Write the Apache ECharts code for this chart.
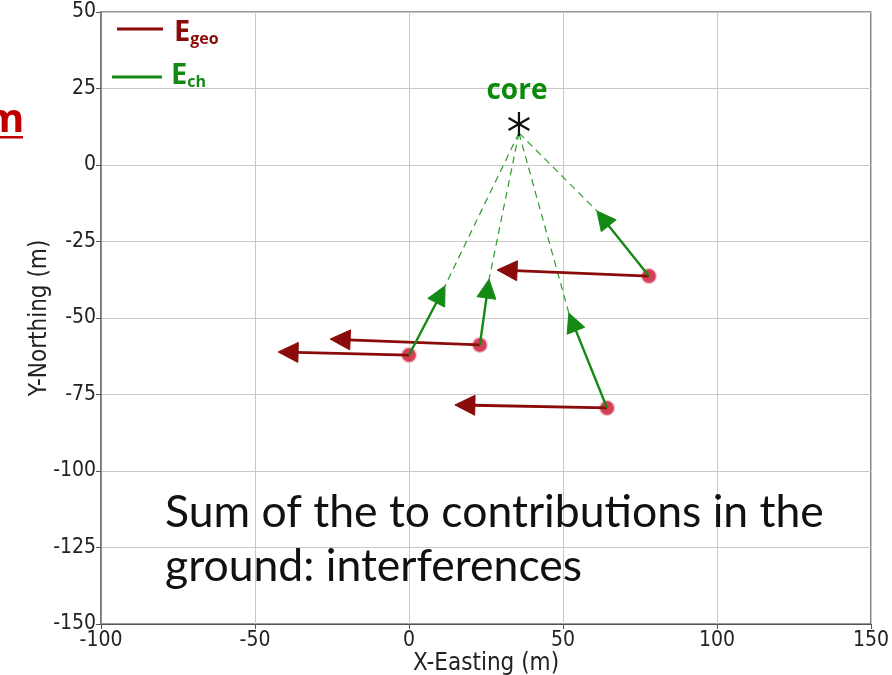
<!DOCTYPE html>
<html>
<head>
<meta charset="utf-8">
<script src="https://cdn.jsdelivr.net/npm/echarts@6/dist/echarts.min.js"></script>
<style>html,body{margin:0;padding:0;background:#fff}#c{width:892px;height:675px}</style>
</head>
<body>
<div id="c"></div>
<script>
// ---- data (metres) ----
const core = [35.7, 13.4];
const antX = [77.9, 23.0, 0.0, 64.3];
const antY = [-36.3, -58.8, -62.1, -79.4];
const geoTipX = [28.6, -25.6, -42.5, 14.9];
const geoTipY = [-34.3, -56.9, -61.1, -78.4];
const chTipX = [61.0, 26.0, 11.7, 51.9];
const chTipY = [-15.0, -37.3, -39.5, -48.4];
const xTicks = { min: -100, max: 150, interval: 50 };
const yTicks = { min: -150, max: 50, interval: 25 };

const RED = '#8b0a0a', GREEN = '#148a14', DOT = '#c8102e';
const FONT = "'DejaVu Sans Condensed','DejaVu Sans',sans-serif";

const geoData = antX.map((x, i) => [x, antY[i], geoTipX[i], geoTipY[i]]);
const chData = antX.map((x, i) => [x, antY[i], chTipX[i], chTipY[i]]);
const dashData = chTipX.map((x, i) => [core[0], core[1], x, chTipY[i]]);
const dotData = antX.map((x, i) => [x, antY[i]]);

function arrowRender(color, width, headLen, headW) {
  return function (params, api) {
    const p0 = api.coord([api.value(0), api.value(1)]);
    const p1 = api.coord([api.value(2), api.value(3)]);
    const dx = p1[0] - p0[0], dy = p1[1] - p0[1];
    const L = Math.hypot(dx, dy);
    const ux = dx / L, uy = dy / L;
    const bx = p1[0] - ux * headLen, by = p1[1] - uy * headLen;
    const nx = -uy, ny = ux;
    return {
      type: 'group',
      children: [
        { type: 'line', shape: { x1: p0[0], y1: p0[1], x2: bx + ux * 2, y2: by + uy * 2 }, style: { stroke: color, lineWidth: width } },
        { type: 'polygon', shape: { points: [p1, [bx + nx * headW / 2, by + ny * headW / 2], [bx - nx * headW / 2, by - ny * headW / 2]] }, style: { fill: color, stroke: color, lineWidth: 1 } }
      ]
    };
  };
}

const chart = echarts.init(document.getElementById('c'));
chart.setOption({
  animation: false,
  grid: { left: 101, right: 21, top: 12, bottom: 51, show: true, borderColor: '#333', borderWidth: 1.2, containLabel: false, outerBoundsMode: 'none' },
  xAxis: {
    type: 'value', min: xTicks.min, max: xTicks.max, interval: xTicks.interval,
    name: 'X-Easting (m)', nameLocation: 'middle', nameGap: 28, nameMoveOverlap: false,
    nameTextStyle: { fontFamily: FONT, fontSize: 24, color: '#222' },
    axisLine: { show: true, onZero: false, lineStyle: { color: '#555', width: 1.2 } },
    axisTick: { show: true, inside: false, length: 5, lineStyle: { color: '#555' } },
    axisLabel: { fontFamily: FONT, fontSize: 21, color: '#222', margin: 6 },
    splitLine: { show: true, lineStyle: { color: '#c8c8c8', width: 1 } }
  },
  yAxis: {
    type: 'value', min: yTicks.min, max: yTicks.max, interval: yTicks.interval,
    name: 'Y-Northing (m)', nameLocation: 'middle', nameGap: 49, nameMoveOverlap: false,
    nameTextStyle: { fontFamily: FONT, fontSize: 24, color: '#222' },
    axisLine: { show: true, onZero: false, lineStyle: { color: '#777', width: 1.5 } },
    axisTick: { show: true, inside: false, length: 5, lineStyle: { color: '#555' } },
    axisLabel: { fontFamily: FONT, fontSize: 21, color: '#222', margin: 5 },
    splitLine: { show: true, lineStyle: { color: '#c8c8c8', width: 1 } }
  },
  series: [
    {
      type: 'custom', z: 3, data: dashData, encode: { x: [0, 2], y: [1, 3] },
      renderItem: function (params, api) {
        const p0 = api.coord([api.value(0), api.value(1)]);
        const p1 = api.coord([api.value(2), api.value(3)]);
        return { type: 'line', shape: { x1: p0[0], y1: p0[1] + 9, x2: p1[0], y2: p1[1] }, style: { stroke: '#2e9a2e', lineWidth: 1.2, lineDash: [7, 5] } };
      }
    },
    {
      type: 'scatter', z: 4, data: dotData, symbol: 'circle', symbolSize: 15,
      itemStyle: { color: DOT, borderColor: '#f2c9d0', borderWidth: 1.5 }
    },
    { type: 'custom', z: 5, data: geoData, encode: { x: [0, 2], y: [1, 3] }, renderItem: arrowRender(RED, 2.8, 20, 20) },
    { type: 'custom', z: 6, data: chData, encode: { x: [0, 2], y: [1, 3] }, renderItem: arrowRender(GREEN, 2.4, 19, 19) },
    {
      type: 'custom', z: 7, data: [core], encode: { x: 0, y: 1 },
      renderItem: function (params, api) {
        const c = api.coord([api.value(0), api.value(1)]);
        const r = 12, ch = [];
        for (let k = 0; k < 3; k++) {
          const a = Math.PI / 2 + k * Math.PI / 3;
          ch.push({ type: 'line', shape: { x1: c[0] - r * Math.cos(a), y1: c[1] - r * Math.sin(a), x2: c[0] + r * Math.cos(a), y2: c[1] + r * Math.sin(a) }, style: { stroke: '#111', lineWidth: 2.2 } });
        }
        ch.push({ type: 'text', x: c[0] - 2, y: c[1] - 33, style: { text: 'core', fill: '#0a8a0a', font: "bold 28px 'Open Sans', sans-serif", align: 'center', verticalAlign: 'middle' } });
        return { type: 'group', children: ch };
      }
    }
  ],
  graphic: [
    { type: 'line', shape: { x1: 117, y1: 29, x2: 163, y2: 29 }, style: { stroke: RED, lineWidth: 2.8 } },
    { type: 'text', left: 174, top: 18, style: { text: '{e|E}{s|geo}', rich: { e: { fontSize: 29, fontWeight: 'bold', fill: RED, fontFamily: 'Open Sans' }, s: { fontSize: 16, fontWeight: 'bold', fill: RED, fontFamily: 'Open Sans', verticalAlign: 'bottom', padding: [14, 0, 0, 0] } } } },
    { type: 'line', shape: { x1: 112, y1: 77, x2: 162, y2: 77 }, style: { stroke: GREEN, lineWidth: 2.8 } },
    { type: 'text', left: 171, top: 61, style: { text: '{e|E}{s|ch}', rich: { e: { fontSize: 29, fontWeight: 'bold', fill: GREEN, fontFamily: 'Open Sans' }, s: { fontSize: 16, fontWeight: 'bold', fill: GREEN, fontFamily: 'Open Sans', verticalAlign: 'bottom', padding: [14, 0, 0, 0] } } } },
    { type: 'text', left: 165, top: 486, z: 10, style: { text: 'Sum of the to contributions in the\nground: interferences', fill: '#111', font: "44.5px Lato, 'Open Sans', sans-serif", lineHeight: 54 } },
    { type: 'text', left: -15, top: 101, style: { text: 'm', fill: '#c00000', font: "bold 40px 'Open Sans', sans-serif" } },
    { type: 'rect', shape: { x: 0, y: 136, width: 23, height: 2.5 }, style: { fill: '#c00000' } }
  ]
});
</script>
</body>
</html>
